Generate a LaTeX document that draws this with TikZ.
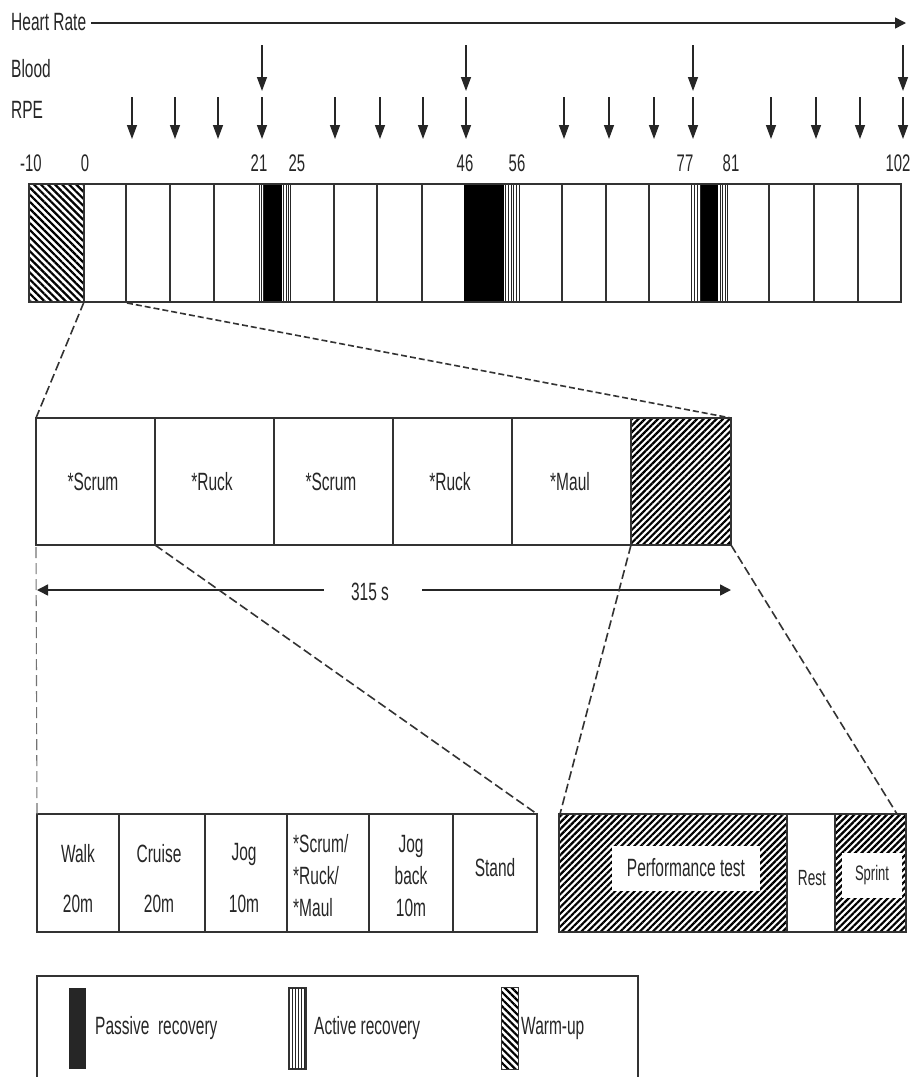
\documentclass[tikz,border=0pt]{standalone}
\usepackage{fontspec}
\setmainfont{Liberation Sans}[FakeStretch=0.62]
\usetikzlibrary{arrows.meta,patterns.meta}
\begin{document}
\begin{tikzpicture}[x=1pt,y=-1pt,
  every node/.style={font=\fontsize{25}{32}\selectfont, text=black!85, inner sep=0pt},
  numlab/.style={font=\fontsize{24}{26}\selectfont},
  small/.style={font=\fontsize{22}{24}\selectfont},
  box/.style={draw=black!80, line width=1.6pt},
  sep/.style={draw=black!80, line width=1.1pt},
  stripe/.style={draw=black!85, line width=1pt},
  arr/.style={line width=1.4pt, draw=black!85, -{Triangle[length=14pt,width=10pt]}},
  arrlr/.style={line width=1.5pt, draw=black!85, -{Triangle[length=11pt,width=11pt]}},
  zoomline/.style={line width=1.6pt, draw=black!80, dash pattern=on 9pt off 4pt},
  zoomdense/.style={line width=1.6pt, draw=black!80, dash pattern=on 6pt off 3pt},
  guide/.style={line width=1.1pt, draw=black!55, dash pattern=on 11pt off 5pt},
  hatchNW/.style={pattern={Lines[angle=-45,distance=5pt,line width=2.2pt]}, pattern color=black},
  hatchNE/.style={pattern={Lines[angle=45,distance=4.6pt,line width=2.2pt]}, pattern color=black},
  whitelab/.style={fill=white, inner sep=0pt},
]
\useasboundingbox (0,0) rectangle (915,1077);

% ---------- measurement rows ----------
\node[anchor=west] (hr) at (11,22) {Heart Rate};
\coordinate (hrEnd) at (906,23);
\draw[arrlr] ([xshift=5pt]hr.east |- hrEnd) -- (hrEnd);
\node[anchor=west] (blood) at (11,69) {Blood};
\node[anchor=west] (rpe) at (11,110) {RPE};

\foreach \x in {262,466,693,903}
  \draw[arr] (\x,45) -- (\x,91);
\foreach \x in {132,175,218,262,335,380,423,466,564,609,654,693,771,816,860,903}
  \draw[arr] (\x,97) -- (\x,139);

% ---------- time labels ----------
\node[numlab] (nm10) at (31,163) {-10};
\node[numlab] (n0)   at (85,163) {0};
\node[numlab] (n21)  at (259,163) {21};
\node[numlab] (n25)  at (297,163) {25};
\node[numlab] (n46)  at (465,163) {46};
\node[numlab] (n56)  at (517,163) {56};
\node[numlab] (n77)  at (685,163) {77};
\node[numlab] (n81)  at (731,163) {81};
\node[numlab] (n102) at (898,163) {102};

% ---------- main bar ----------
\draw[hatchNW] (29,184) rectangle (84,302);
\fill[black] (264,184) rectangle (282,302);
\fill[black] (464,184) rectangle (504,302);
\fill[black] (700,184) rectangle (718,302);
\foreach \x in {259.3,261.3,263.3,283.5,286,288,290,505.7,508.3,511,513.7,516.5,519,691.7,694.3,697.5,700,720,722.7,725,727}
  \draw[stripe] (\x,184) -- (\x,302);
\foreach \x in {84,126,170,214,334,377,422,562,606,649,769,814,858}
  \draw[sep] (\x,184) -- (\x,302);
\draw[box] (29,184) rectangle (901,302);

\coordinate (t0) at (84,302);
\coordinate (t1) at (127,303);

% ---------- middle bar ----------
\coordinate (mTL) at (36,418);
\coordinate (mTR) at (731,418);
\draw[hatchNE] (631,418) rectangle (731,545);
\foreach \x in {155,274,393,512,631}
  \draw[sep] (\x,418) -- (\x,545);
\draw[box] (mTL) rectangle (731,545);
\node (c1) at (93,482) {*Scrum};
\node (c2) at (212,482) {*Ruck};
\node (c3) at (331,482) {*Scrum};
\node (c4) at (450,482) {*Ruck};
\node (c5) at (570,482) {*Maul};

\draw[zoomline] (t0) -- (mTL);
\draw[zoomdense] (t1) -- (mTR);

\coordinate (mB1) at (155,545);
\coordinate (mB5) at (631,545);
\coordinate (mBR) at (731,545);
\coordinate (mBL) at (36,547);

% ---------- 315 s ----------
\node (dur) at (370,592) {315 s};
\coordinate (dL) at (37,590);
\coordinate (dR) at (731,590);
\draw[arrlr] ([xshift=-27pt]dur.west |- dL) -- (dL);
\draw[arrlr] ([xshift=33pt]dur.east |- dR) -- (dR);

% ---------- bottom-left bar ----------
\coordinate (lTL) at (37,814);
\coordinate (lTR) at (537,814);
\foreach \x in {119,205,287,369,453}
  \draw[sep] (\x,814) -- (\x,932);
\draw[box] (lTL) rectangle (537,932);
\node (walk) at (78,854) {Walk};
\node (walkd) at (78,904) {20m};
\node (cruise) at (159,854) {Cruise};
\node (cruised) at (159,904) {20m};
\node (jog) at (244,854) {Jog};
\node (jogd) at (244,904) {10m};
\node[align=left, anchor=west] (contest) at (293,876) {*Scrum/\\*Ruck/\\*Maul};
\node[align=center] (jogback) at (411,876) {Jog\\back\\10m};
\node (stand) at (495,868) {Stand};

\draw[guide] (mBL) -- (lTL);
\draw[zoomline] (mB1) -- (lTR);

% ---------- bottom-right bar ----------
\coordinate (rTL) at (560,814);
\coordinate (rTR) at (897,814);
\draw[hatchNE] (559,814) rectangle (787,932);
\draw[hatchNE] (835,814) rectangle (906,932);
\draw[sep] (787,814) -- (787,932);
\draw[sep] (835,814) -- (835,932);
\draw[box] (559,814) rectangle (906,932);
\node[whitelab, minimum width=148pt, minimum height=45pt] (perf) at (686,868) {Performance test};
\node[small] (rest) at (812,878) {Rest};
\node[whitelab, font=\fontsize{21}{22}\selectfont, minimum width=60pt, minimum height=45pt] (sprint) at (872,875) {Sprint};

\draw[zoomline] (mB5) -- (rTL);
\draw[zoomline] (mBR) -- (rTR);

% ---------- legend ----------
\draw[box] (37,1078) -- (37,976) -- (638,976) -- (638,1078);
\fill[black!85] (69,988) rectangle (86,1069);
\node[anchor=west] (lp) at (95,1028) {Passive\ \ recovery};
\draw[sep] (289,988) rectangle (306,1069);
\foreach \x in {292,295,298,301,304}
  \draw[stripe] (\x,988) -- (\x,1069);
\node[anchor=west] (la) at (314,1028) {Active recovery};
\draw[hatchNW, draw=black!80, line width=1pt] (501,987) rectangle (518,1069);
\node[anchor=west] (lw) at (521,1028) {Warm-up};
\end{tikzpicture}
\end{document}
